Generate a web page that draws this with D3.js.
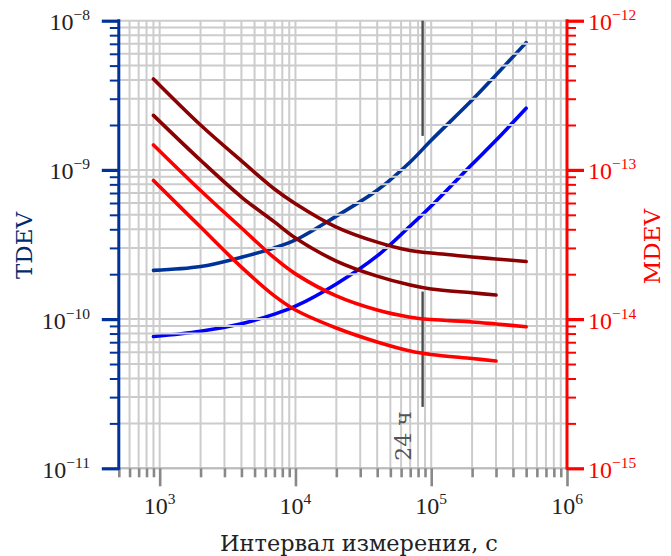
<!DOCTYPE html>
<html><head><meta charset="utf-8">
<script src="https://cdn.jsdelivr.net/npm/d3@7"></script>
<style>
body{margin:0;background:#fff;}
svg{display:block;}
</style></head>
<body>
<svg id="c" width="671" height="556"></svg>
<script>
// ---- data ----
const taus      = [900, 2000, 4000, 7000, 1e4, 2e4, 4e4, 7e4, 1e5, 2e5, 3e5, 5e5];
const tausShort = [900, 2000, 4000, 7000, 1e4, 2e4, 4e4, 7e4, 1e5, 2e5, 3e5];
const tdevDark  = [2.12e-10, 2.25e-10, 2.6e-10, 3.0e-10, 3.39e-10, 4.9e-10, 7.3e-10, 1.13e-9, 1.58e-9, 2.94e-9, 4.33e-9, 7.13e-9];
const tdevBlue  = [7.64e-11, 8.3e-11, 9.3e-11, 1.08e-10, 1.22e-10, 1.72e-10, 2.65e-10, 4.21e-10, 5.73e-10, 1.09e-9, 1.58e-9, 2.59e-9];
const mdevDark1 = [4.07e-13, 2.0e-13, 1.15e-13, 7.45e-14, 5.94e-14, 4.14e-14, 3.28e-14, 2.88e-14, 2.77e-14, 2.61e-14, 2.53e-14, 2.43e-14];
const mdevDark2 = [2.32e-13, 1.16e-13, 6.58e-14, 4.48e-14, 3.5e-14, 2.45e-14, 1.94e-14, 1.69e-14, 1.59e-14, 1.5e-14, 1.45e-14];
const mdevRed1  = [1.47e-13, 7.28e-14, 4.08e-14, 2.57e-14, 2.01e-14, 1.43e-14, 1.15e-14, 1.03e-14, 9.93e-15, 9.57e-15, 9.27e-15, 8.89e-15];
const mdevRed2  = [8.49e-14, 4.14e-14, 2.23e-14, 1.43e-14, 1.15e-14, 8.71e-15, 7.02e-15, 6.11e-15, 5.79e-15, 5.44e-15, 5.24e-15];
const xDomain = [500, 1e6];
const yLeftDomain = [1e-11, 1e-8];
const yRightDomain = [1e-15, 1e-12];
const xMajor = [1e3, 1e4, 1e5, 1e6];
const xMajorLabels = ["3", "4", "5", "6"];
const yLeftMajor = [1e-11, 1e-10, 1e-9, 1e-8];
const yLeftLabels = ["\u221211", "\u221210", "\u22129", "\u22128"];
const yRightMajor = [1e-15, 1e-14, 1e-13, 1e-12];
const yRightLabels = ["\u221215", "\u221214", "\u221213", "\u221212"];
const dayTau = 86400;
const daySegments = [[1e-8, 1.69e-9], [1.53e-10, 2.58e-11]];
const dayLabel = "24 ч";
const xTitle = "Интервал измерения, с";

// ---- layout ----
const L = 118.8, R = 567, T = 20.7, B = 468.3;
const svg = d3.select("#c");
const x = d3.scaleLog().domain(xDomain).range([L, R]);
const yL = d3.scaleLog().domain(yLeftDomain).range([B, T]);
const yR = d3.scaleLog().domain(yRightDomain).range([B, T]);

function minorsOf(domain){
  const out=[]; const a=Math.floor(Math.log10(domain[0])), b=Math.ceil(Math.log10(domain[1]));
  for(let e=a;e<=b;e++) for(let m=1;m<10;m++){const v=m*Math.pow(10,e); if(v>=domain[0]*0.999 && v<=domain[1]*1.001) out.push(v);}
  return out;
}
const xAll = minorsOf(xDomain);
const yAll = minorsOf(yLeftDomain);
const yRAll = minorsOf(yRightDomain);
const isMajor = v => Math.abs(Math.log10(v) - Math.round(Math.log10(v))) < 1e-6;

const COL_DB = "#003399", COL_B = "#0000ff", COL_DR = "#8b0000", COL_R = "#ff0000";
const SERIF = "'DejaVu Serif', serif";
const TSERIF = "'Liberation Serif', 'DejaVu Serif', serif";

const line = (ys) => d3.line().x(d=>x(d[0])).y(d=>ys(d[1])).curve(d3.curveCatmullRom.alpha(0.5));

// vertical grid (below everything)
const gV = svg.append("g").attr("stroke","#cccccc").attr("stroke-width",2);
gV.selectAll("line").data(xAll).enter().append("line")
  .attr("x1",d=>x(d)).attr("x2",d=>x(d)).attr("y1",T).attr("y2",B);

// blue curves
const gB = svg.append("g");
[[tdevDark, COL_DB],[tdevBlue, COL_B]].forEach(([vals,c])=>{
  gB.append("path").datum(taus.map((t,i)=>[t,vals[i]])).attr("d", line(yL))
    .attr("fill","none").attr("stroke",c).attr("stroke-width",3.6).attr("stroke-linecap","round");
});

// horizontal grid (over blue curves)
const gH = svg.append("g").attr("stroke","#cccccc").attr("stroke-width",2);
gH.selectAll("line").data(yAll).enter().append("line")
  .attr("y1",d=>yL(d)).attr("y2",d=>yL(d)).attr("x1",L).attr("x2",R);

// 24h marker
const gM = svg.append("g");
daySegments.forEach(s=>{
  gM.append("line").attr("x1",x(dayTau)).attr("x2",x(dayTau)).attr("y1",yL(s[0])).attr("y2",yL(s[1]))
    .attr("stroke","#4d4d4d").attr("stroke-width",2.4);
});
gM.append("text").attr("transform",`translate(${x(dayTau)-12},${436}) rotate(-90)`)
  .attr("text-anchor","middle").attr("font-family",SERIF).attr("font-size",22).attr("fill","#555")
  .text(dayLabel);

// red curves (above grid)
const gR = svg.append("g");
[[taus,mdevDark1,COL_DR],[tausShort,mdevDark2,COL_DR],[taus,mdevRed1,COL_R],[tausShort,mdevRed2,COL_R]].forEach(([ts,vals,c])=>{
  gR.append("path").datum(ts.map((t,i)=>[t,vals[i]])).attr("d", line(yR))
    .attr("fill","none").attr("stroke",c).attr("stroke-width",3.6).attr("stroke-linecap","round");
});

// bottom axis
svg.append("line").attr("x1",L).attr("x2",R).attr("y1",B).attr("y2",B).attr("stroke","#bbbbbb").attr("stroke-width",2);
function styleAxis(g,color,w){
  g.select(".domain").remove();
  g.selectAll(".tick line").attr("stroke",color).attr("stroke-width",w);
  g.selectAll(".tick text").remove();
}
const gxMin = svg.append("g").attr("transform",`translate(0,${B})`)
  .call(d3.axisBottom(x).tickValues(xAll.filter(v=>!isMajor(v))).tickSize(9).tickFormat(""));
styleAxis(gxMin,"#888",2.6);
const gxMaj = svg.append("g").attr("transform",`translate(0,${B})`)
  .call(d3.axisBottom(x).tickValues(xMajor).tickSize(18).tickFormat(""));
styleAxis(gxMaj,"#888",2.6);
const xl = svg.append("g").attr("font-family",TSERIF).attr("fill","#222");
xMajor.forEach((v,i)=>{
  const t = xl.append("text").attr("x",x(v)).attr("y",514).attr("text-anchor","middle").attr("font-size",24);
  t.append("tspan").text("10");
  t.append("tspan").attr("dy",-10).attr("font-size",15.5).text(xMajorLabels[i]);
});

// left axis
const gyMin = svg.append("g").attr("transform",`translate(${L},0)`)
  .call(d3.axisLeft(yL).tickValues(yAll.filter(v=>!isMajor(v))).tickSize(9).tickFormat(""));
styleAxis(gyMin,COL_DB,2);
const gyMaj = svg.append("g").attr("transform",`translate(${L},0)`)
  .call(d3.axisLeft(yL).tickValues(yLeftMajor).tickSize(17).tickFormat(""));
styleAxis(gyMaj,COL_DB,3.2);
svg.append("line").attr("x1",L).attr("x2",L).attr("y1",T-1.5).attr("y2",B+1.5).attr("stroke",COL_DB).attr("stroke-width",3);
const yl = svg.append("g").attr("font-family",TSERIF).attr("fill","#222");
yLeftMajor.forEach((v,i)=>{
  const t = yl.append("text").attr("x",90).attr("y",yL(v)+9.5).attr("text-anchor","end").attr("font-size",24);
  t.append("tspan").text("10");
  t.append("tspan").attr("dy",-10).attr("font-size",15.5).text(yLeftLabels[i]);
});

// right axis
const gyrMin = svg.append("g").attr("transform",`translate(${R},0)`)
  .call(d3.axisRight(yR).tickValues(yRAll.filter(v=>!isMajor(v))).tickSize(9).tickFormat(""));
styleAxis(gyrMin,COL_R,2);
const gyrMaj = svg.append("g").attr("transform",`translate(${R},0)`)
  .call(d3.axisRight(yR).tickValues(yRightMajor).tickSize(17).tickFormat(""));
styleAxis(gyrMaj,COL_R,3.2);
svg.append("line").attr("x1",R).attr("x2",R).attr("y1",T-1.5).attr("y2",B+1.5).attr("stroke",COL_R).attr("stroke-width",3);
const yr = svg.append("g").attr("font-family",TSERIF).attr("fill",COL_R);
yRightMajor.forEach((v,i)=>{
  const t = yr.append("text").attr("x",588).attr("y",yR(v)+9.5).attr("text-anchor","start").attr("font-size",24);
  t.append("tspan").text("10");
  t.append("tspan").attr("dy",-10).attr("font-size",15.5).text(yRightLabels[i]);
});

// titles
svg.append("text").attr("transform",`translate(31.5,${(T+B)/2+1}) rotate(-90)`).attr("text-anchor","middle")
  .attr("font-family",SERIF).attr("font-size",23).attr("fill","#002b6e").text("TDEV");
svg.append("text").attr("transform",`translate(660,${(T+B)/2+2}) rotate(-90)`).attr("text-anchor","middle")
  .attr("font-family",SERIF).attr("font-size",23).attr("fill",COL_R).text("MDEV");
svg.append("text").attr("x",359).attr("y",551).attr("text-anchor","middle")
  .attr("font-family",SERIF).attr("font-size",22.4).attr("fill","#222").text(xTitle);
</script>
</body></html>
